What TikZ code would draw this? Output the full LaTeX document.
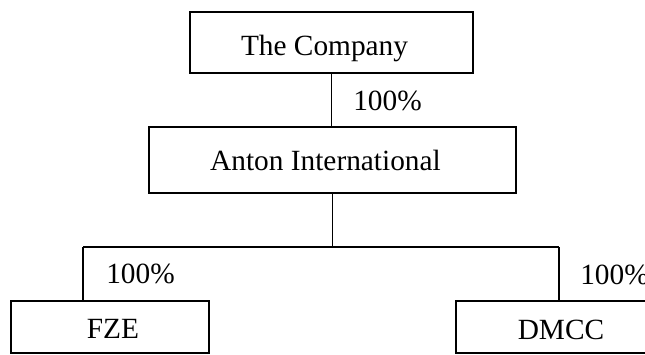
\documentclass[tikz,border=0pt]{standalone}
\usepackage{fontspec}
\setmainfont{Liberation Serif}
\begin{document}
\begin{tikzpicture}[x=0.75pt,y=-0.75pt,
  txt/.style={font=\fontsize{22}{26}\selectfont},
  entity/.style={draw, line width=1.1pt, inner sep=0pt, txt, text depth=0pt},
  pct/.style={anchor=base west, inner sep=0pt, txt},
  link/.style={line width=0.9pt}]
\useasboundingbox (0,0) rectangle (645,354);
\clip (0,0) rectangle (645,354);
\node[entity, minimum width=212.25pt, minimum height=45.75pt, text height=18.75pt] (company) at (331.5,42.5) {\hspace*{-10.5pt}The Company};
\node[entity, minimum width=275.25pt, minimum height=49.5pt, text height=15pt] (anton) at (332.5,160) {\hspace*{-10.5pt}Anton International};
\node[entity, minimum width=148.5pt, minimum height=39pt, text height=17pt] (fze) at (110,327) {\hspace*{4.5pt}FZE};
\node[entity, minimum width=157.5pt, minimum height=39pt, text height=18pt] (dmcc) at (561,327) {DMCC};
\coordinate (bl) at (83,247);
\coordinate (br) at (559,247);
\draw[link] (company.south) -- (company.south |- anton.north);
\draw[link] (anton.south) -- (anton.south |- bl);
\draw[link] (bl) -- (br);
\draw[link] (bl) -- (bl |- fze.north);
\draw[link] (br) -- (br |- dmcc.north);
\node[pct] (p1) at (353,110) {100\%};
\node[pct] (p2) at (106,283) {100\%};
\node[pct] (p3) at (580,284) {100\%};
\end{tikzpicture}
\end{document}
